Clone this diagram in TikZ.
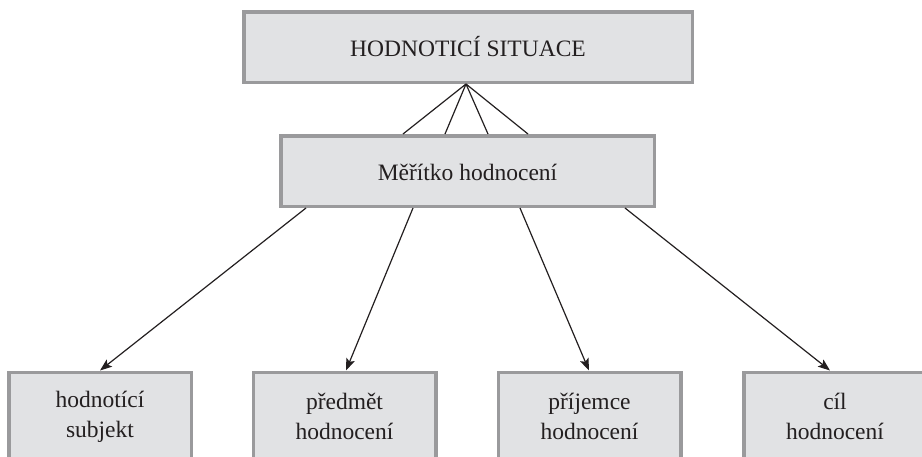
\documentclass[tikz,border=0pt]{standalone}
\usepackage{fontspec}
\setmainfont{Liberation Serif}
\usetikzlibrary{arrows.meta}
\definecolor{boxfill}{HTML}{E1E2E4}
\definecolor{boxline}{HTML}{9A9A9C}
\definecolor{ink}{HTML}{231F20}
\tikzset{
  box/.style={draw=boxline, fill=boxfill, line width=3.5pt, rectangle,
    inner sep=0pt, align=center, text=ink, font=\fontsize{23.5}{30}\selectfont},
  bigbox/.style={box, minimum width=448.5pt, minimum height=70.5pt,
    text height=18pt, text depth=0pt},
  midbox/.style={box, minimum width=373.5pt, minimum height=70.5pt,
    text height=18pt, text depth=0pt},
  leafbox/.style={box, minimum width=182.5pt, minimum height=88.5pt},
  fanline/.style={draw=ink, line width=1.2pt},
  arrowline/.style={draw=ink, line width=1.2pt, -{Stealth[length=12pt, width=9pt, inset=2.5pt]}}
}
\begin{document}
\begin{tikzpicture}[x=1pt, y=-1pt]
  \useasboundingbox (0,0) rectangle (922,456);

  % boxes
  \node[bigbox] (T) at (468,47) {HODNOTICÍ SITUACE};
  \node[midbox] (M) at (467.5,171) {Měřítko hodnocení};
  \node[leafbox] (b1) at (100,416.5) {hodnotící\\subjekt};
  \node[leafbox] (b2) at (344.5,416.5) {předmět\\hodnocení};
  \node[leafbox] (b3) at (589.5,416.5) {příjemce\\hodnocení};
  \node[leafbox] (b4) at (835,416.5) {cíl\\hodnocení};

  % fan between the two upper boxes
  \coordinate (apex) at ([xshift=-2pt]T.south);
  \foreach \dx in {-64.5,-22.5,20.5,60.5}
    \draw[fanline] (apex) -- ([xshift=\dx pt]M.north);

  % arrows down to the four leaves
  \draw[arrowline] ([xshift=-161.5pt]M.south) -- (b1.north);
  \draw[arrowline] ([xshift=-54.5pt]M.south) -- ([xshift=1.5pt]b2.north);
  \draw[arrowline] ([xshift=52.5pt]M.south) -- ([xshift=-0.5pt]b3.north);
  \draw[arrowline] ([xshift=157.5pt]M.south) -- ([xshift=-5pt]b4.north);
\end{tikzpicture}
\end{document}
